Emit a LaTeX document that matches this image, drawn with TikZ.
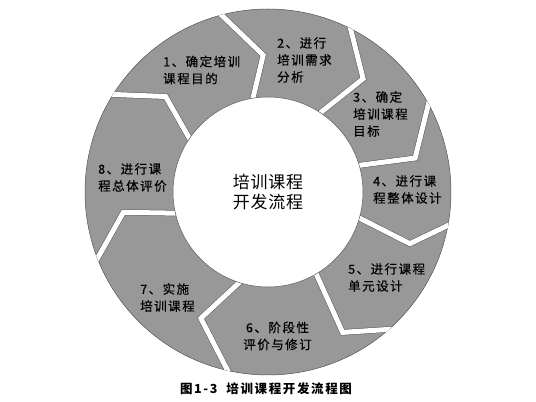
\documentclass[tikz,border=0pt]{standalone}
\usepackage{fontspec}
\newfontfamily\cjk{Noto Sans CJK SC}[LetterSpace=12, FakeBold=0.4]
\newfontfamily\cjkhub{Noto Sans CJK SC}[LetterSpace=4]
\newfontfamily\cjkcap{Noto Sans CJK SC}[LetterSpace=13]
\usetikzlibrary{calc}
\definecolor{ringgray}{RGB}{152,152,152}
\definecolor{edgegray}{RGB}{85,85,85}
\tikzset{
  steplabel/.style={font=\cjk\fontsize{12.5}{17}\selectfont, align=left, anchor=west, inner sep=0pt},
  gapline/.style={draw=edgegray, line width=0.5pt, double=white, double distance=5pt, miter limit=20}
}
\begin{document}
\begin{tikzpicture}[x=1pt,y=1pt]
\useasboundingbox (0,0) rectangle (536,402);
\coordinate (C) at (268,210);

\begin{scope}[shift={(C)}]
\fill[ringgray, even odd rule] (0,0) circle (183) (0,0) circle (95);
\draw[edgegray, line width=0.5pt] (0,0) circle (183);
\begin{scope}
\clip (0,0) circle (183.2);
\foreach \ao/\at/\rt/\ai in {106/92/137/101, 65/50/148/58, 31/13/151/17, -9/-20/151/-15,
  -46/-62/159/-59, -101/-118/143/-105, -157/-172/146/-166, 149/137/140/148}
  \draw[gapline] (\ao:190) -- (\at:\rt) -- (\ai:88);
\end{scope}
\draw[edgegray, line width=0.5pt, fill=white] (0,0) circle (95);
\end{scope}

\node[steplabel] (s1) at (163,332) {1、确定培训\\课程目的};
\node[steplabel] (s2) at (277,342) {2、进行\\培训需求\\分析};
\node[steplabel] (s3) at (353,288) {3、确定\\培训课程\\目标};
\node[steplabel] (s4) at (373,212.5) {4、进行课\\程整体设计};
\node[steplabel] (s5) at (348,124.5) {5、进行课程\\单元设计};
\node[steplabel, align=center, anchor=center] (s6) at (277.5,66) {6、阶段性\\评价与修订};
\node[steplabel] (s7) at (140,104.5) {7、实施\\培训课程};
\node[steplabel] (s8) at (98,224.5) {8、进行课\\程总体评价};
\node[font=\cjkhub\fontsize{17}{20}\selectfont, align=center, inner sep=0pt] (hub) at (C) {培训课程\\开发流程};
\node[font=\cjkcap\bfseries\fontsize{12.5}{14}\selectfont, inner sep=0pt] (cap) at (266,13) {图1-3\ \ 培训课程开发流程图};
\end{tikzpicture}
\end{document}
